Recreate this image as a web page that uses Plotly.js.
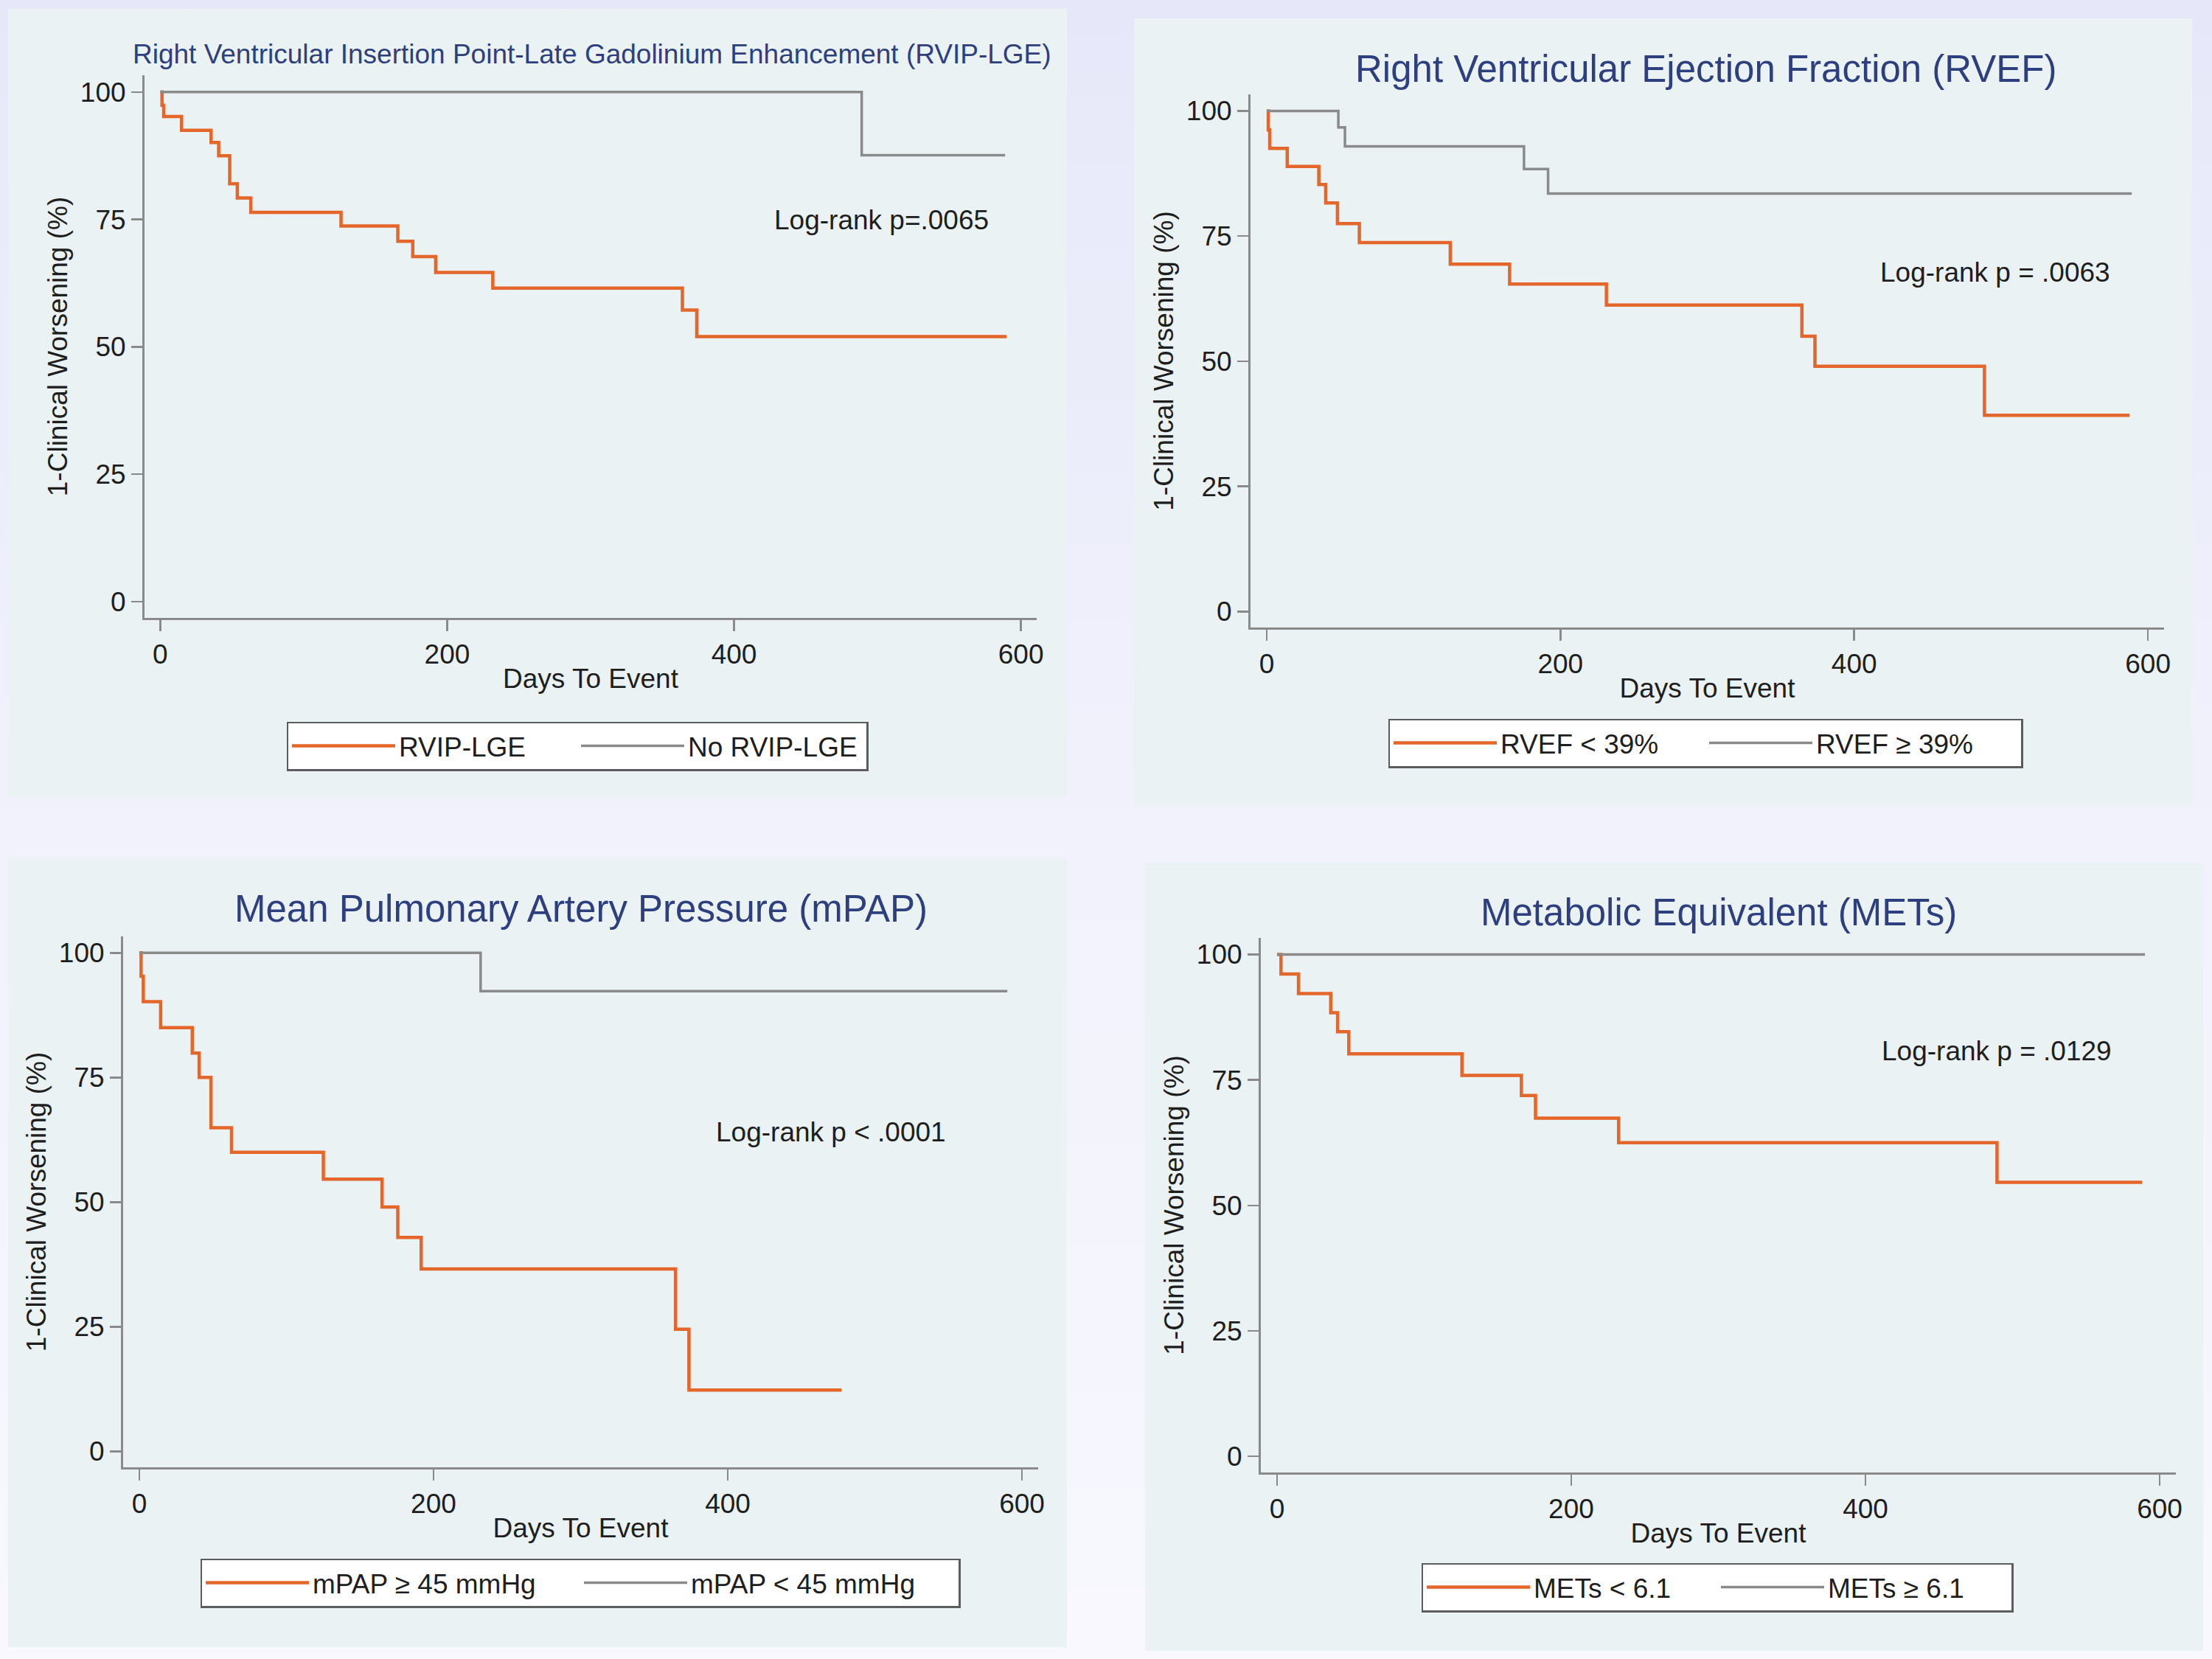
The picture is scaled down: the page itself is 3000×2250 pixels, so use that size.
<!DOCTYPE html>
<html>
<head>
<meta charset="utf-8">
<script src="https://cdn.plot.ly/plotly-3.0.1.min.js"></script>
<style>
html,body{margin:0;padding:0;}
body{background:linear-gradient(180deg,#e6e8f9 0%,#eff0fb 40%,#f8f8fe 100%);}
#chart{width:3000px;height:2250px;}
</style>
</head>
<body>
<div id="chart"></div>
<script>
// ---------------- DATA ----------------
// Panel 1: RVIP-LGE
const rvipDays      = [0, 1.2, 2.4, 14.8, 35.4, 40.7, 48.4, 53.7, 63.1, 126, 165.6, 176, 192, 231.8, 364, 374, 590];
const rvipSurv      = [100, 97.4, 95.2, 92.5, 90.1, 87.5, 82.0, 79.2, 76.4, 73.7, 70.7, 67.7, 64.6, 61.5, 57.2, 52.0, 52.0];
const noRvipDays    = [0, 489, 589];
const noRvipSurv    = [100, 87.6, 87.6];
// Panel 2: RVEF
const rvefLowDays   = [0, 1.1, 2.1, 14, 35.5, 40.2, 48.2, 63.1, 125, 165.4, 231.3, 364.4, 373.3, 488.7, 587.5];
const rvefLowSurv   = [100, 96.2, 92.5, 88.9, 85.3, 81.6, 77.5, 73.7, 69.4, 65.4, 61.2, 55.0, 49.0, 39.2, 39.2];
const rvefHighDays  = [0, 48.8, 53.3, 175.2, 191.6, 589];
const rvefHighSurv  = [100, 96.7, 92.9, 88.4, 83.5, 83.5];
// Panel 3: mPAP
const mpapHighDays  = [0, 1.2, 2.7, 14.5, 36, 40.7, 48.7, 62.7, 125.1, 165, 175.7, 191.6, 364.5, 373.6, 477.3];
const mpapHighSurv  = [100, 95.3, 90.2, 85.0, 79.9, 75.0, 64.9, 60.0, 54.6, 49.0, 42.9, 36.6, 24.5, 12.3, 12.3];
const mpapLowDays   = [0, 232, 590];
const mpapLowSurv   = [100, 92.3, 92.3];
// Panel 4: METs
const metsLowDays   = [0, 2.7, 14.6, 36.5, 41.2, 48.8, 125.7, 166.1, 175.7, 232.2, 489.4, 588];
const metsLowSurv   = [100, 96.1, 92.2, 88.4, 84.6, 80.2, 75.9, 71.9, 67.4, 62.5, 54.6, 54.6];
const metsHighDays  = [0, 590];
const metsHighSurv  = [100, 100];

const panelTitles = [
  "Right Ventricular Insertion Point-Late Gadolinium Enhancement (RVIP-LGE)",
  "Right Ventricular Ejection Fraction (RVEF)",
  "Mean Pulmonary Artery Pressure (mPAP)",
  "Metabolic Equivalent (METs)"
];
const logRankTexts = ["Log-rank p=.0065", "Log-rank p = .0063", "Log-rank p < .0001", "Log-rank p = .0129"];
const seriesNames = [
  ["RVIP-LGE", "No RVIP-LGE"],
  ["RVEF < 39%", "RVEF \u2265 39%"],
  ["mPAP \u2265 45 mmHg", "mPAP < 45 mmHg"],
  ["METs < 6.1", "METs \u2265 6.1"]
];
const xTickVals = [0, 200, 400, 600];
const yTickVals = [0, 25, 50, 75, 100];
const xAxisTitle = "Days To Event";
const yAxisTitle = "1-Clinical Worsening (%)";

// ---------------- LAYOUT HELPERS ----------------
const W = 3000, H = 2250;
const px = v => v / W;
const py = v => 1 - v / H;

const ORANGE = "#e5662b";
const GRAY = "#8a8a8a";
const NAVY = "#2e3f80";
const TXT = "#1e1e1e";
const FONT = "Liberation Sans, Arial, Helvetica, sans-serif";
const FS = 37;

// plot areas [left, right, top, bottom] in pixels
const plotBoxes = [
  [196, 1406, 102, 838],
  [1696, 2935, 128, 851],
  [167, 1408, 1270, 1990],
  [1710, 2951, 1272, 1997]
];
// panel backgrounds [left, right, top, bottom]
const panelBoxes = [
  [11, 1447, 12, 1080],
  [1538, 2973, 25, 1093],
  [11, 1447, 1163, 2234],
  [1553, 2988, 1170, 2239]
];
const titlePos = [[803, 73, 37], [2313, 93, 51], [788, 1232, 51], [2331, 1238, 51]];
const logRankPos = [[1195, 298], [2706, 370], [1127, 1535], [2708, 1425]];
const legendPos = [[783, 1012], [2313, 1008], [787, 2147], [2329, 2153]];
const legendEntryW = [237, 273, 358, 244];

const seriesData = [
  [[rvipDays, rvipSurv], [noRvipDays, noRvipSurv]],
  [[rvefLowDays, rvefLowSurv], [rvefHighDays, rvefHighSurv]],
  [[mpapHighDays, mpapHighSurv], [mpapLowDays, mpapLowSurv]],
  [[metsLowDays, metsLowSurv], [metsHighDays, metsHighSurv]]
];

const traces = [];
const layout = {
  width: W, height: H,
  margin: {l: 0, r: 0, t: 0, b: 0, pad: 0},
  paper_bgcolor: "rgba(0,0,0,0)",
  plot_bgcolor: "#ffffff",
  font: {family: FONT, size: FS, color: TXT},
  showlegend: true,
  shapes: [],
  annotations: []
};

for (let i = 0; i < 4; i++) {
  const sfx = i === 0 ? "" : String(i + 1);
  const legName = "legend" + sfx;
  const [sL, sR] = seriesData[i];
  traces.push({
    x: sL[0], y: sL[1], type: "scatter", mode: "lines",
    line: {shape: "hv", color: ORANGE, width: 4.5},
    name: seriesNames[i][0], xaxis: "x" + sfx, yaxis: "y" + sfx, legend: legName,
    hoverinfo: "x+y"
  });
  traces.push({
    x: sR[0], y: sR[1], type: "scatter", mode: "lines",
    line: {shape: "hv", color: GRAY, width: 3.5},
    name: seriesNames[i][1], xaxis: "x" + sfx, yaxis: "y" + sfx, legend: legName,
    hoverinfo: "x+y"
  });

  const [l, r, t, b] = plotBoxes[i];
  layout["xaxis" + sfx] = {
    domain: [px(l), px(r)], anchor: "y" + sfx,
    range: [-11, 611], tickvals: xTickVals, ticktext: xTickVals.map(String),
    showline: true, linecolor: "#8a8a8a", linewidth: 3,
    ticks: "outside", ticklen: 15, tickwidth: 2.5, tickcolor: "#8a8a8a",
    showgrid: false, zeroline: false, automargin: false,
    tickfont: {size: FS, color: TXT, family: FONT},
    title: {text: xAxisTitle, font: {size: FS, color: TXT, family: FONT}, standoff: 0}
  };
  layout["yaxis" + sfx] = {
    domain: [py(b), py(t)], anchor: "x" + sfx,
    range: [-3.2, 103.3], tickvals: yTickVals, ticktext: yTickVals.map(String),
    showline: true, linecolor: "#8a8a8a", linewidth: 3,
    ticks: "outside", ticklen: 15, tickwidth: 2.5, tickcolor: "#8a8a8a",
    showgrid: true, gridcolor: "#eaf2f3", gridwidth: 2.5, zeroline: false, automargin: false,
    tickfont: {size: FS, color: TXT, family: FONT},
    title: {text: yAxisTitle, font: {size: FS, color: TXT, family: FONT}, standoff: 6}
  };

  const [pl, pr, pt, pb] = panelBoxes[i];
  layout.shapes.push({
    type: "rect", xref: "paper", yref: "paper", layer: "below",
    x0: px(pl), x1: px(pr), y0: py(pb), y1: py(pt),
    fillcolor: "#eaf2f3", line: {width: 0}
  });

  const [tx, ty, ts] = titlePos[i];
  layout.annotations.push({
    xref: "paper", yref: "paper", x: px(tx), y: py(ty), xanchor: "center", yanchor: "middle",
    text: panelTitles[i], showarrow: false, font: {size: ts, color: NAVY, family: FONT}
  });
  const [lx, ly] = logRankPos[i];
  layout.annotations.push({
    xref: "paper", yref: "paper", x: px(lx), y: py(ly), xanchor: "center", yanchor: "middle",
    text: logRankTexts[i], showarrow: false, font: {size: FS, color: TXT, family: FONT}
  });

  const [gx, gy] = legendPos[i];
  layout[legName] = {
    x: px(gx), y: py(gy), xanchor: "center", yanchor: "middle",
    xref: "paper", yref: "paper",
    orientation: "h", bgcolor: "#ffffff", bordercolor: "#5c5c5c", borderwidth: 2.5,
    font: {size: FS, color: TXT, family: FONT},
    itemwidth: 140, entrywidth: legendEntryW[i], entrywidthmode: "pixels",
    itemclick: false, itemdoubleclick: false
  };
}

Plotly.newPlot("chart", traces, layout, {staticPlot: true, displayModeBar: false});
</script>
</body>
</html>
